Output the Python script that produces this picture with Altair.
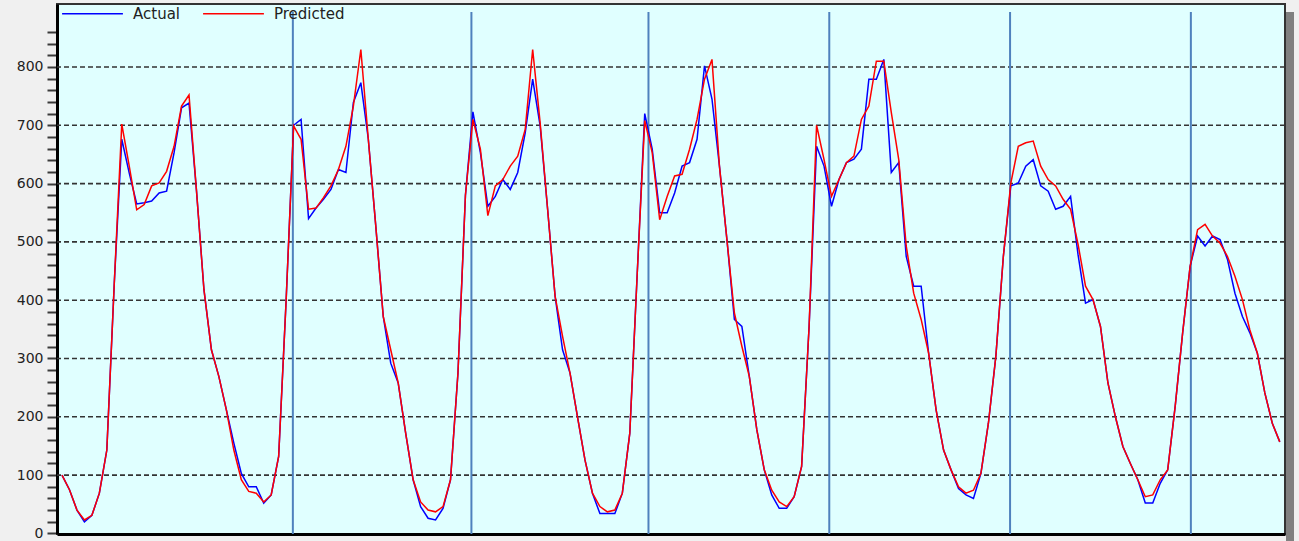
import altair as alt
import pandas as pd

# Hourly load, one value per hour from the first sample onwards
actual = [
    100, 75, 40, 20, 31, 69, 143, 430, 676, 618,
    565, 567, 570, 584, 587, 653, 730, 738, 588, 418,
    315, 269, 212, 155, 103, 80, 80, 52, 66, 132,
    400, 700, 710, 540, 558, 573, 590, 624, 619, 739,
    773, 676, 527, 372, 292, 258, 172, 92, 46, 26,
    23, 43, 92, 275, 580, 723, 653, 561, 578, 607,
    590, 619, 687, 779, 699, 556, 407, 315, 275, 200,
    126, 69, 34, 34, 34, 69, 172, 447, 720, 659,
    550, 550, 584, 630, 636, 676, 802, 745, 630, 504,
    367, 355, 269, 178, 109, 66, 43, 43, 63, 115,
    355, 664, 630, 561, 607, 636, 642, 659, 779, 779,
    813, 619, 636, 475, 424, 424, 309, 212, 143, 109,
    77, 66, 60, 103, 189, 304, 475, 596, 601, 630,
    641, 596, 587, 556, 561, 578, 478, 395, 401, 355,
    258, 200, 149, 120, 92, 52, 52, 86, 109, 218,
    344, 458, 510, 493, 510, 504, 470, 412, 372, 344,
    309, 241, 189, 157,
]

predicted = [
    100, 75, 40, 23, 31, 69, 143, 430, 702, 630,
    555, 564, 596, 601, 621, 664, 733, 752, 588, 418,
    315, 269, 212, 143, 92, 72, 69, 54, 66, 132,
    400, 699, 676, 556, 558, 576, 596, 624, 664, 733,
    830, 676, 527, 372, 315, 258, 172, 92, 54, 40,
    37, 46, 92, 275, 580, 710, 659, 545, 596, 607,
    630, 647, 693, 830, 704, 556, 407, 338, 275, 200,
    126, 69, 46, 37, 40, 69, 172, 447, 708, 653,
    538, 578, 613, 616, 659, 710, 779, 813, 630, 504,
    378, 321, 269, 178, 109, 74, 54, 46, 63, 115,
    355, 700, 641, 578, 607, 636, 647, 710, 733, 810,
    810, 722, 641, 493, 412, 367, 309, 212, 143, 109,
    80, 69, 74, 103, 189, 304, 475, 601, 664, 670,
    673, 630, 607, 596, 573, 556, 496, 424, 401, 355,
    258, 200, 149, 120, 92, 63, 66, 92, 109, 218,
    344, 458, 521, 530, 510, 498, 475, 441, 401, 349,
    309, 241, 189, 157,
]

# Day boundaries (hour index) and horizontal reference levels
day_marks = [30.9, 54.8, 78.5, 102.7, 126.9, 151.1]
grid_levels = [100, 200, 300, 400, 500, 600, 700, 800]
y_ticks = list(range(0, 861, 20))

hours = list(range(len(actual)))
series_df = pd.concat([
    pd.DataFrame({"hour": hours, "load": actual, "series": "Actual"}),
    pd.DataFrame({"hour": hours, "load": predicted, "series": "Predicted"}),
], ignore_index=True)
grid_df = pd.DataFrame({"level": grid_levels})
day_df = pd.DataFrame({"hour": day_marks})

x_scale = alt.Scale(domain=[-0.67, 163.7], nice=False, zero=False)
y_scale = alt.Scale(domain=[-1, 908], nice=False, zero=False)

FONT = "DejaVu Sans"

y_axis = alt.Axis(
    title=None, values=y_ticks, grid=False,
    labelExpr="datum.value % 100 == 0 ? datum.label : ''",
    tickSize=10, tickWidth=2, tickColor="#3a3a3a",
    domainColor="#000000", domainWidth=3,
    labelFont=FONT, labelFontSize=14, labelColor="#222222", labelPadding=4,
)
x_axis = alt.Axis(
    title=None, labels=False, ticks=False, grid=False,
    domainColor="#000000", domainWidth=3,
)

# Drop shadow on the right edge of the plot frame
shadow = alt.Chart(pd.DataFrame({"k": [0]})).mark_rect(color="#808080").encode(
    x=alt.value(1229), x2=alt.value(1237), y=alt.value(8), y2=alt.value(540)
)

grid = alt.Chart(grid_df).mark_rule(
    color="#333333", strokeWidth=1.6, strokeDash=[5, 3]
).encode(y=alt.Y("level:Q", scale=y_scale, axis=y_axis))

days = alt.Chart(day_df).mark_rule(color="#4F81BD", strokeWidth=2).encode(
    x=alt.X("hour:Q", scale=x_scale, axis=x_axis),
    y=alt.value(8), y2=alt.value(530),
)

lines = alt.Chart(series_df).mark_line(strokeWidth=1.5, interpolate="linear").encode(
    x=alt.X("hour:Q", scale=x_scale, axis=x_axis),
    y=alt.Y("load:Q", scale=y_scale, axis=y_axis),
    color=alt.Color(
        "series:N",
        scale=alt.Scale(domain=["Actual", "Predicted"], range=["#0000FF", "#FF0000"]),
        legend=alt.Legend(
            title=None, orient="none", legendX=4, legendY=-22,
            direction="horizontal", symbolType="stroke", symbolSize=3700,
            symbolStrokeWidth=1.5, labelFont=FONT, labelFontSize=15,
            labelColor="#222222", labelOffset=9, columnPadding=20, padding=0,
        ),
    ),
    order=alt.Order("hour:Q"),
)

chart = alt.layer(shadow, grid, days, lines).properties(
    width=1228, height=530,
    background="#F0F0F0",
    padding={"left": 57, "top": 4, "right": 14, "bottom": 7},
    autosize=alt.AutoSizeParams(type="none"),
).configure_view(
    fill="#E0FFFF", stroke="#333333", strokeWidth=2,
)

chart.save("out.html", embed_options={"renderer": "svg", "actions": False})
